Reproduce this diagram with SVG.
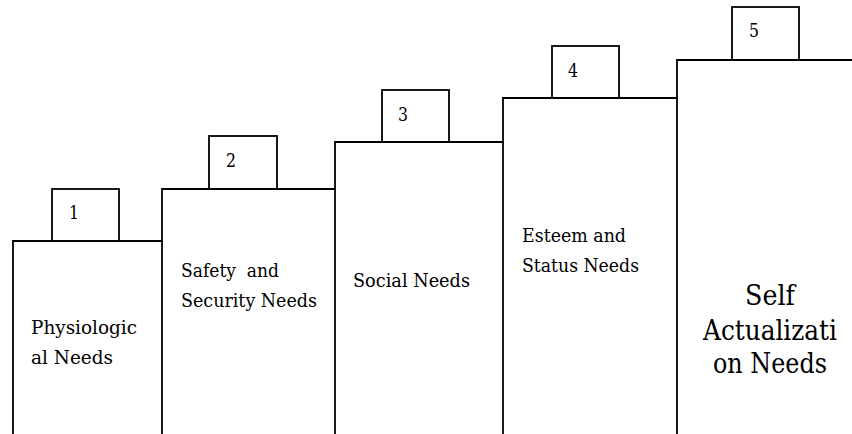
<svg xmlns="http://www.w3.org/2000/svg" width="852" height="434" viewBox="0 0 852 434">
  <style>
    .edge { fill: none; stroke: #000; stroke-width: 1.8; }
    text { font-family: 'DejaVu Serif', serif; fill: #000; }
    .lbl { font-size: 19px; }
    .num { font-size: 18px; }
    .big { font-size: 27px; text-anchor: middle; }
  </style>
  <rect width="852" height="434" fill="#fff"/>

  <!-- staircase outline: step columns open at the bottom -->
  <g id="connectors">
    <path class="edge" d="M13,434 V241 H162 V189 H335 V142 H503 V98 H677 V60 H852"/>
    <path class="edge" d="M162,434 V241"/>
    <path class="edge" d="M335,434 V189"/>
    <path class="edge" d="M503,434 V142"/>
    <path class="edge" d="M677,434 V98"/>
  </g>

  <g id="step1">
    <rect class="edge" x="52" y="189" width="67" height="52"/>
    <text class="num" x="69" y="219" textLength="10" lengthAdjust="spacingAndGlyphs">1</text>
    <text class="lbl" x="31" y="334" textLength="106" lengthAdjust="spacingAndGlyphs">Physiologic</text>
    <text class="lbl" x="31" y="364" textLength="82" lengthAdjust="spacingAndGlyphs">al Needs</text>
  </g>

  <g id="step2">
    <rect class="edge" x="209" y="136" width="68" height="53"/>
    <text class="num" x="226" y="167" textLength="10" lengthAdjust="spacingAndGlyphs">2</text>
    <text class="lbl" x="181" y="277" textLength="98" lengthAdjust="spacingAndGlyphs" xml:space="preserve">Safety  and</text>
    <text class="lbl" x="181" y="307" textLength="136" lengthAdjust="spacingAndGlyphs">Security Needs</text>
  </g>

  <g id="step3">
    <rect class="edge" x="382" y="90" width="67" height="52"/>
    <text class="num" x="398" y="121" textLength="10" lengthAdjust="spacingAndGlyphs">3</text>
    <text class="lbl" x="353" y="287" textLength="117" lengthAdjust="spacingAndGlyphs">Social Needs</text>
  </g>

  <g id="step4">
    <rect class="edge" x="552" y="46" width="67" height="52"/>
    <text class="num" x="568" y="77" textLength="10" lengthAdjust="spacingAndGlyphs">4</text>
    <text class="lbl" x="522" y="242" textLength="104" lengthAdjust="spacingAndGlyphs">Esteem and</text>
    <text class="lbl" x="522" y="272" textLength="117" lengthAdjust="spacingAndGlyphs">Status Needs</text>
  </g>

  <g id="step5">
    <rect class="edge" x="732" y="7" width="67" height="53"/>
    <text class="num" x="749" y="37" textLength="10" lengthAdjust="spacingAndGlyphs">5</text>
    <text class="big" x="770" y="305" textLength="50" lengthAdjust="spacingAndGlyphs">Self</text>
    <text class="big" x="770" y="340" textLength="134" lengthAdjust="spacingAndGlyphs">Actualizati</text>
    <text class="big" x="770" y="373" textLength="114" lengthAdjust="spacingAndGlyphs">on Needs</text>
  </g>
</svg>
